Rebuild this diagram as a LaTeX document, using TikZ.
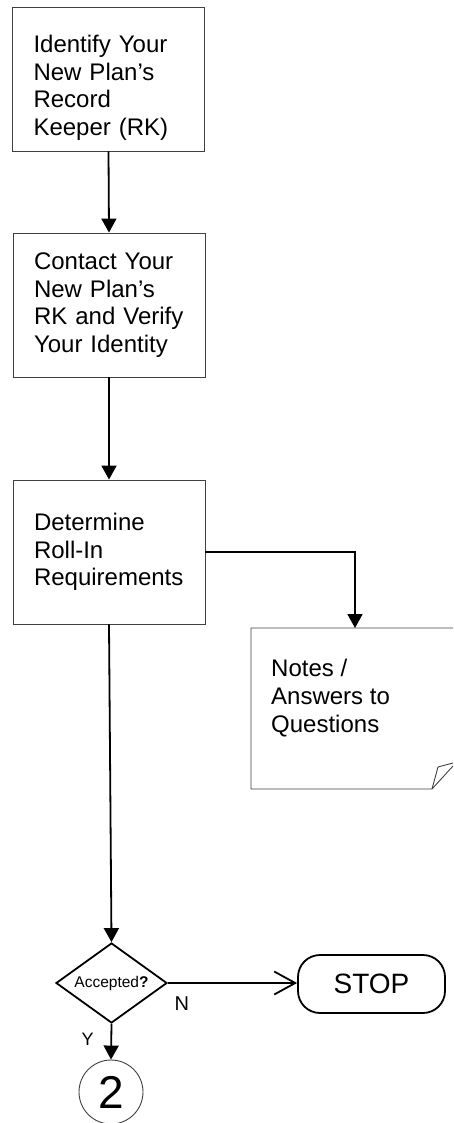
\documentclass[tikz,border=0pt]{standalone}
\usepackage{fontspec}
\setmainfont{Liberation Sans}
\usetikzlibrary{arrows.meta,shapes.geometric}
\begin{document}
\begin{tikzpicture}[x=1pt,y=-1pt,
  thin border/.style={draw=black!75, line width=0.9pt},
  box/.style={thin border, rectangle, minimum width=192pt, minimum height=144pt,
    text width=150pt, align=left, inner sep=0pt,
    font=\fontsize{24}{27.5}\selectfont},
  conn/.style={line width=1.8pt, -{Triangle[width=15pt,length=14pt]}},
  openconn/.style={line width=1.8pt, -{Straight Barb[length=21pt,width=23pt]}},
  decision/.style={draw=black, line width=1.8pt, diamond, aspect=1.39,
    minimum width=111pt, minimum height=80pt, inner sep=0pt,
    font=\fontsize{15.5}{16}\selectfont},
  terminal/.style={draw=black, line width=1.8pt, rectangle, rounded corners=22pt,
    minimum width=147pt, minimum height=58pt, font=\fontsize{28}{30}\selectfont},
  connector/.style={thin border, circle, minimum size=64pt, inner sep=0pt,
    font=\fontsize{46}{46}\selectfont},
  lbl/.style={anchor=base west, font=\fontsize{20}{20}\selectfont}
]
\useasboundingbox (0,0) rectangle (453,1123);

\node[box] (b1) at (108.5,79) {\rule{0pt}{35pt}Identify Your\\New Plan’s\\Record\\Keeper (RK)};
\node[box] (b2) at (109,305) {Contact Your\\New Plan’s\\RK and Verify\\Your Identity};
\node[box] (b3) at (109,552) {Determine\\Roll-In\\Requirements};

% notes sheet (cut by the right edge)
\coordinate (nt) at (355,628);
\draw[thin border] (453,628) -- (251,628) -- (251,789) -- (432,789) -- (453,766);
\draw[thin border] (432,789) -- (438,767) -- (453,763);
\node[anchor=north west, align=left, inner sep=0pt, font=\fontsize{24}{28}\selectfont]
  (notes) at (271,659) {Notes /\\Answers to\\Questions};

\node[decision] (d) at (111.5,983) {Accepted\textbf{?}};
\node[terminal] (stop) at (371.5,984) {STOP};
\node[connector] (c2) at (111,1092) {2};

\draw[conn] (b1.south) -- (b2.north);
\draw[conn] (b2.south) -- (b3.north);
\draw[conn] (b3.east) -| (nt);
\draw[conn] (b3.south) -- (d.north);
\draw[conn] (d.south) -- (c2.north);
\draw[openconn] (d.east) -- (d.east -| stop.west);

\node[lbl] (n) at (171,1010.7) {N};
\node[lbl, font=\fontsize{18}{18}\selectfont] (y) at (78,1045) {Y};
\end{tikzpicture}
\end{document}
